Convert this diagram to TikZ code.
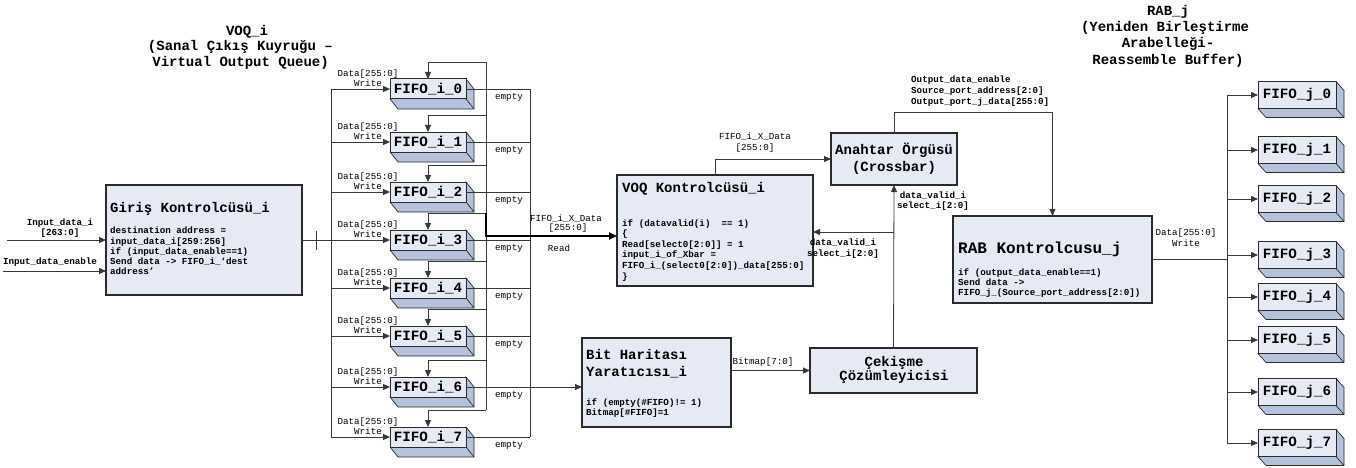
\documentclass[tikz,border=0pt]{standalone}
\usepackage{fontspec}
\setmonofont{Liberation Mono}
\usetikzlibrary{arrows.meta,calc,backgrounds}
\definecolor{boxfill}{HTML}{E6EAF4}
\definecolor{extfill}{HTML}{B4C2DC}
\definecolor{edge}{HTML}{2A2A2A}
\definecolor{wirec}{HTML}{383838}
\tikzset{
  lbl/.style={font=\fontsize{9.2}{10}\selectfont\ttfamily, inner sep=0pt},
  bodytxt/.style={font=\fontsize{9.2}{10.2}\selectfont\ttfamily\bfseries, inner sep=0pt, align=left, anchor=north west},
  ttl/.style={font=\fontsize{14}{16}\selectfont\ttfamily\bfseries, inner sep=0pt},
  bigbox/.style={draw=edge, line width=1.2pt, fill=boxfill, inner sep=0pt, outer sep=0pt, anchor=north west},
  fifo/.style={draw=edge, line width=1pt, fill=boxfill, inner sep=0pt, outer sep=0pt,
    font=\fontsize{14.2}{16}\selectfont\ttfamily\bfseries},
  wire/.style={draw=wirec, line width=0.8pt},
  arr/.style={wire, -{Triangle[length=7pt,width=6pt]}},
  thickarr/.style={draw=black, line width=1.8pt, -{Triangle[length=8pt,width=7pt]}},
  extr/.style={fill=extfill, draw=edge, line width=0.7pt, line join=round}
}
\begin{document}
\begin{tikzpicture}[x=1pt,y=-1pt]
\useasboundingbox (0,0) rectangle (1356,468);

% ---------- titles ----------
\node[ttl] (tv1) at (247,32) {VOQ\_i};
\node[ttl, anchor=east] (tv2) at (333,47) {(Sanal Çıkış Kuyruğu –};
\node[ttl, anchor=east] (tv3) at (329,63) {Virtual Output Queue)};
\node[ttl] (tr1) at (1168,12) {RAB\_j};
\node[ttl] (tr2) at (1165,28) {(Yeniden Birleştirme};
\node[ttl] (tr3) at (1168,44) {Arabelleği-};
\node[ttl] (tr4) at (1168,61) {Reassemble Buffer)};

% ---------- big boxes ----------
\node[bigbox, minimum width=196pt, minimum height=110pt] (giris) at (106,185) {};
\node[ttl, anchor=west] (girisT) at (110,209) {Giriş Kontrolcüsü\_i};
\node[bodytxt] (girisB) at (110,227) {destination address =\\input\_data\_i[259:256]\\if (input\_data\_enable==1)\\Send data -> FIFO\_i\_‘dest\\address’};

\node[bigbox, minimum width=196pt, minimum height=111pt] (voq) at (617,175) {};
\node[ttl, anchor=west] (voqT) at (622,189) {VOQ Kontrolcüsü\_i};
\node[bodytxt, font=\fontsize{9.2}{10.6}\selectfont\ttfamily\bfseries] (voqB) at (622,219) {if (datavalid(i)\ \ == 1)\\\{\\Read[select0[2:0]] = 1\\input\_i\_of\_Xbar =\\FIFO\_i\_(select0[2:0])\_data[255:0]\\\}};

\node[bigbox, minimum width=126pt, minimum height=52pt] (xbar) at (831,133) {};
\node[ttl] (xbarT1) at (894,150) {Anahtar Örgüsü};
\node[ttl] (xbarT2) at (894,168) {(Crossbar)};

\node[bigbox, minimum width=167pt, minimum height=45pt] (cek) at (810,348) {};
\node[ttl] (cekT1) at (894,363) {Çekişme};
\node[ttl] (cekT2) at (894,377) {Çözümleyicisi};

\node[bigbox, minimum width=149pt, minimum height=89pt] (bit) at (582,338) {};
\node[ttl, anchor=west] (bitT1) at (586,354) {Bit Haritası};
\node[ttl, anchor=west] (bitT2) at (586,372) {Yaratıcısı\_i};
\node[bodytxt] (bitB) at (586,398) {if (empty(\#FIFO)!= 1)\\Bitmap[\#FIFO]=1};

\node[bigbox, minimum width=199pt, minimum height=87pt] (rab) at (953,216) {};
\node[ttl, anchor=west, font=\fontsize{16}{18}\selectfont\ttfamily\bfseries] (rabT) at (958,249) {RAB Kontrolcusu\_j};
\node[bodytxt] (rabB) at (958,268) {if (output\_data\_enable==1)\\Send data ->\\FIFO\_j\_(Source\_port\_address[2:0])};

% ---------- bus coordinates ----------
\coordinate (bl) at (331,0);
\coordinate (br) at (486,0);
\coordinate (be) at (530,0);
\coordinate (bj) at (1227,0);

% ---------- FIFO_i ----------
\foreach \k/\y in {0/89,1/142,2/192,3/240,4/288,5/336,6/387,7/437}{
  \node[fifo, minimum width=76pt, minimum height=20pt] (fi\k) at (428,\y) {FIFO\_i\_\k};
  \begin{pgfonlayer}{background}
    \filldraw[extr] (fi\k.north east) -- ++(8,10) -- ($(fi\k.south east)+(8,10)$) -- ($(fi\k.south west)+(8,10)$) -- (fi\k.south west) -- cycle;
    \draw[extr, fill=none] (fi\k.south east) -- ++(8,10);
  \end{pgfonlayer}
  \coordinate (fd\k) at ($(fi\k.north)+(0,-17)$);
  \draw[arr] (bl |- fi\k.west) -- (fi\k.west);
  \draw[arr] (fd\k -| br) -- (fd\k) -- (fi\k.north);
  \node[lbl] (dl\k) at (368,\y-15) {Data[255:0]};
  \node[lbl, anchor=east] (wl\k) at (382,\y-6) {Write};
  \node[lbl] (el\k) at (509,\y+8) {empty};
}
\foreach \k in {0,1,2,3,4,5,7}{
  \draw[wire] (fi\k.east) -- (be |- fi\k.east);
}
\draw[wire] (bl |- fi0.west) -- (bl |- fi7.west);
\draw[wire] (fd0 -| br) -- (fd7 -| br);
\draw[wire] (be |- fi0.east) -- (be |- fi7.east);

% ---------- FIFO_j ----------
\foreach \k/\y in {0/95,1/150,2/199,3/255,4/297,5/340,6/392,7/443}{
  \node[fifo, minimum width=78pt, minimum height=27pt] (fj\k) at (1297,\y) {FIFO\_j\_\k};
  \begin{pgfonlayer}{background}
    \filldraw[extr] (fj\k.north east) -- ++(8,9) -- ($(fj\k.south east)+(8,9)$) -- ($(fj\k.south west)+(8,9)$) -- (fj\k.south west) -- cycle;
    \draw[extr, fill=none] (fj\k.south east) -- ++(8,9);
  \end{pgfonlayer}
  \draw[arr] (bj |- fj\k.west) -- (fj\k.west);
}
\draw[wire] (bj |- fj0.west) -- (bj |- fj7.west);

% ---------- inputs ----------
\coordinate (in1) at (7,240);
\coordinate (in2) at (3,271);
\draw[arr] (in1) -- (in1 -| giris.west);
\draw[arr] (in2) -- (in2 -| giris.west);
\node[lbl, font=\fontsize{9.2}{10}\selectfont\ttfamily\bfseries] (li1) at (60,223) {Input\_data\_i};
\node[lbl, font=\fontsize{9.2}{10}\selectfont\ttfamily\bfseries] (li2) at (60,233) {[263:0]};
\node[lbl, font=\fontsize{9.2}{10}\selectfont\ttfamily\bfseries] (li3) at (50,262) {Input\_data\_enable};

% Giris -> write bus
\draw[wire] (giris.east) -- (bl |- giris.east);
\coordinate (tk1) at (316,231);
\coordinate (tk2) at (316,250);
\draw[wire] (tk1) -- (tk2);

% read data -> VOQ controller
\coordinate (rd) at (486,236);
\draw[thickarr] (fd3 -| br) -- (rd) -- (rd -| voq.west);
\node[lbl] (lr1) at (566,219) {FIFO\_i\_X\_Data};
\node[lbl] (lr2) at (568,228) {[255:0]};
\node[lbl] (lr3) at (559,248) {Read};

% empty from FIFO_i_6 -> bitmap
\draw[arr] (fi6.east) -- (bit.west |- fi6.east);

% bitmap -> cekisme
\draw[arr] (bit.east |- cek.west) -- (cek.west);
\node[lbl] (lb1) at (763,362) {Bitmap[7:0]};

% cekisme -> crossbar, and -> VOQ
\draw[arr] (cek.north) -- (xbar.south);
\coordinate (dv) at (cek.north |- 0,232);
\draw[arr] (dv) -- (dv -| voq.east);
\node[lbl, font=\fontsize{9.2}{10}\selectfont\ttfamily\bfseries] (ld1) at (933,196) {data\_valid\_i};
\node[lbl, font=\fontsize{9.2}{10}\selectfont\ttfamily\bfseries] (ld2) at (933,206) {select\_i[2:0]};
\node[lbl, font=\fontsize{9.2}{10}\selectfont\ttfamily\bfseries] (ld3) at (843,243) {data\_valid\_i};
\node[lbl, font=\fontsize{9.2}{10}\selectfont\ttfamily\bfseries] (ld4) at (843,254) {select\_i[2:0]};

% VOQ -> crossbar
\draw[arr] (voq.north) |- (xbar.west);
\node[lbl] (lx1) at (755,137) {FIFO\_i\_X\_Data};
\node[lbl] (lx2) at (755,148) {[255:0]};

% crossbar -> RAB
\coordinate (xo) at ($(xbar.north)+(0,-21)$);
\draw[arr] (xbar.north) -- (xo) -| (rab.north);
\node[lbl, anchor=west, font=\fontsize{9.2}{10}\selectfont\ttfamily\bfseries] (lo1) at (911,80) {Output\_data\_enable};
\node[lbl, anchor=west, font=\fontsize{9.2}{10}\selectfont\ttfamily\bfseries] (lo2) at (911,91) {Source\_port\_address[2:0]};
\node[lbl, anchor=west, font=\fontsize{9.2}{10}\selectfont\ttfamily\bfseries] (lo3) at (911,102) {Output\_port\_j\_data[255:0]};

% RAB -> FIFO_j bus
\draw[wire] (rab.east) -- (bj |- rab.east);
\node[lbl] (lw1) at (1186,233) {Data[255:0]};
\node[lbl] (lw2) at (1186,243) {Write};
\end{tikzpicture}
\end{document}
